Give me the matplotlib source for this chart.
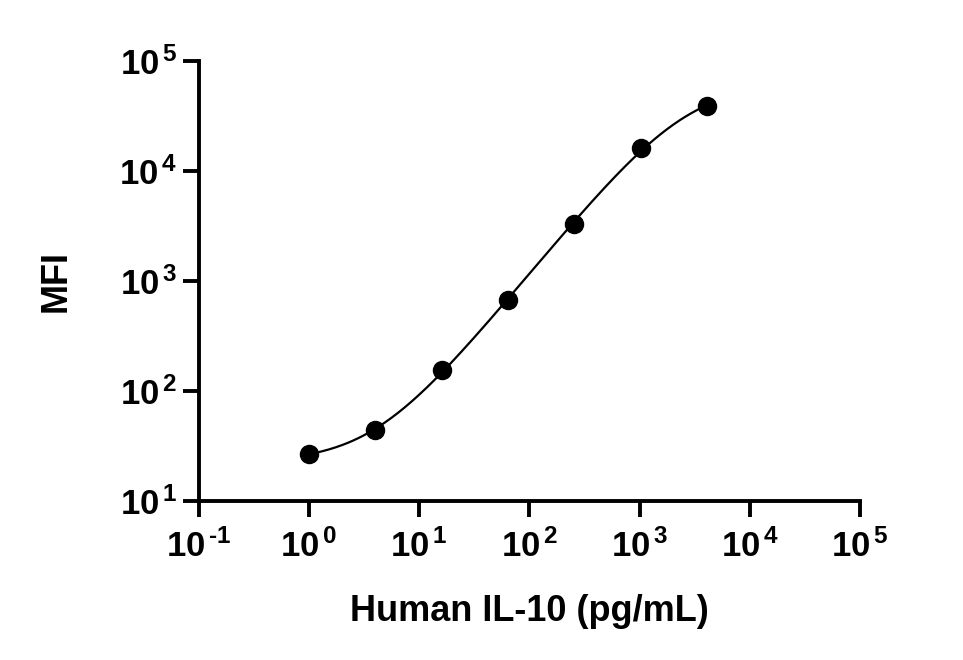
import matplotlib
matplotlib.use('Agg')
import matplotlib.pyplot as plt
import numpy as np
from matplotlib.ticker import FixedLocator, FuncFormatter, NullLocator

# Human IL-10 standard curve
conc = [1, 4, 16, 64, 256, 1024, 4096]
mfi = [26.6, 44, 154, 670, 3270, 16100, 38800]


def four_pl(p, x):
    la, b, lc, ld = p
    a, c, d = 10 ** la, 10 ** lc, 10 ** ld
    return d + (a - d) / (1 + (x / c) ** b)


def fit_4pl(x, y):
    # small Levenberg-Marquardt fit in log space
    x = np.asarray(x, float)
    ly = np.log10(y)
    p = np.array([np.log10(min(y)) - 0.1, 1.0, np.log10(np.median(x)) + 1, np.log10(max(y)) + 0.2])
    lam = 1e-2

    def res(q):
        return np.log10(np.clip(four_pl(q, x), 1e-9, None)) - ly

    r = res(p)
    for _ in range(500):
        J = np.empty((len(x), 4))
        for k in range(4):
            dq = np.zeros(4)
            dq[k] = 1e-6
            J[:, k] = (res(p + dq) - r) / 1e-6
        A = J.T @ J
        g = J.T @ r
        step = np.linalg.solve(A + lam * np.diag(np.diag(A) + 1e-12), -g)
        pn = p + step
        rn = res(pn)
        if np.sum(rn ** 2) < np.sum(r ** 2):
            p, r = pn, rn
            lam *= 0.3
        else:
            lam *= 10
    return p


params = fit_4pl(conc, mfi)
xs = np.logspace(np.log10(conc[0]), np.log10(conc[-1]), 300)

plt.rcParams['font.family'] = 'Liberation Sans'
plt.rcParams['font.weight'] = 'bold'
plt.rcParams['mathtext.fontset'] = 'custom'
plt.rcParams['mathtext.rm'] = 'Liberation Sans:bold'
plt.rcParams['mathtext.it'] = 'Liberation Sans:bold'
plt.rcParams['mathtext.bf'] = 'Liberation Sans:bold'

fig = plt.figure(figsize=(9.63, 6.6), dpi=100)
ax = fig.add_axes([0.2063, 0.2414, 0.893 - 0.2063, 0.9076 - 0.2414])

ax.plot(xs, four_pl(params, xs), color='black', lw=1.6, zorder=2)
ax.plot(conc, mfi, 'o', color='black', ms=13, zorder=3)

ax.set_xscale('log')
ax.set_yscale('log')
ax.set_xlim(1e-1, 1e5)
ax.set_ylim(1e1, 1e5)


def pow_label(v, pos):
    e = int(round(np.log10(v)))
    s = str(e).replace('-', '\u2010')
    return r'$10^{\,%s}$' % s


fmt = FuncFormatter(pow_label)
ax.xaxis.set_major_locator(FixedLocator([10.0 ** k for k in range(-1, 6)]))
ax.yaxis.set_major_locator(FixedLocator([10.0 ** k for k in range(1, 6)]))
ax.xaxis.set_minor_locator(NullLocator())
ax.yaxis.set_minor_locator(NullLocator())
ax.xaxis.set_major_formatter(fmt)
ax.yaxis.set_major_formatter(fmt)

for s in ['top', 'right']:
    ax.spines[s].set_visible(False)
for s in ['left', 'bottom']:
    ax.spines[s].set_linewidth(2.8)
ax.tick_params(width=2.8, length=11.5, labelsize=25)
ax.tick_params(axis='x', pad=9)
ax.tick_params(axis='y', pad=4)

ax.set_xlabel('Human IL-10 (pg/mL)', fontsize=26, fontweight='bold')
ax.set_ylabel('MFI', fontsize=26, fontweight='bold')
ax.xaxis.set_label_coords(0.5, -0.212)
ax.yaxis.set_label_coords(-0.189, 0.5)

fig.savefig('out.png', dpi=100)
